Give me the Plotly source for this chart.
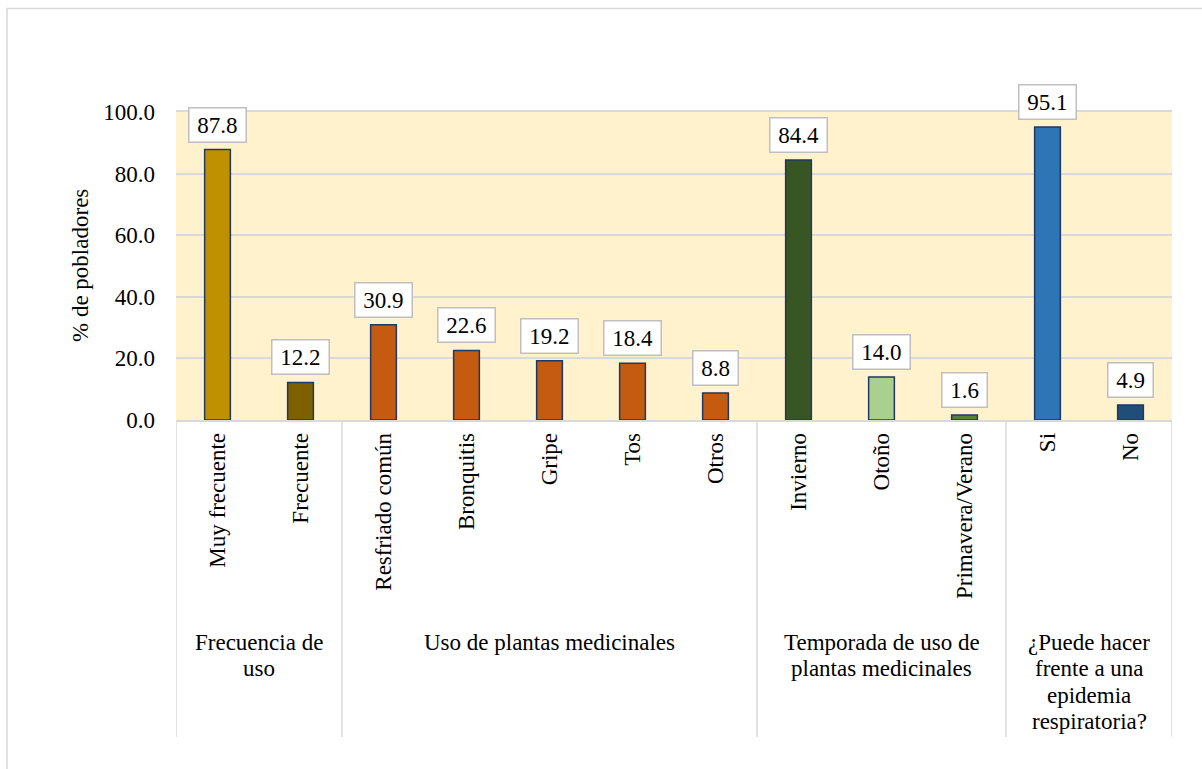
import plotly.graph_objects as go

# Categories, values and grouping
categories = [
    "Muy frecuente", "Frecuente",
    "Resfriado común", "Bronquitis", "Gripe", "Tos", "Otros",
    "Invierno", "Otoño", "Primavera/Verano",
    "Si", "No",
]
values = [87.8, 12.2, 30.9, 22.6, 19.2, 18.4, 8.8, 84.4, 14.0, 1.6, 95.1, 4.9]
bar_colors = [
    "#BF9000", "#7F6000",
    "#C55A11", "#C55A11", "#C55A11", "#C55A11", "#C55A11",
    "#375623", "#A9D08E", "#548235",
    "#2E75B6", "#1F4E79",
]
groups = [
    (["Frecuencia de", "uso"], 2),
    (["Uso de plantas medicinales"], 5),
    (["Temporada de uso de", "plantas medicinales"], 3),
    (["¿Puede hacer", "frente a una", "epidemia", "respiratoria?"], 2),
]
y_ticks = [0, 20, 40, 60, 80, 100]

FONT = "Liberation Serif"
GRID = "#D9D9D9"
W, H = 1202, 769
ML, MR, MT, MB = 176, 30, 112, 349
PW, PH = W - ML - MR, H - MT - MB

x_idx = list(range(len(categories)))

fig = go.Figure(
    go.Bar(
        x=x_idx,
        y=values,
        width=0.31,
        marker=dict(color=bar_colors, line=dict(color="#1F3864", width=1.5)),
        hoverinfo="skip",
    )
)

annotations = []
# value boxes above bars
for i, v in enumerate(values):
    annotations.append(dict(
        x=i, y=v, xref="x", yref="y",
        text="\u00a0" + f"{v:.1f}" + "\u00a0",
        showarrow=False, yanchor="bottom", yshift=7,
        height=29, valign="middle",
        font=dict(family=FONT, size=23, color="#000000"),
        bgcolor="#FFFFFF", bordercolor="#BFBFBF", borderwidth=1.5, borderpad=2,
    ))

# y-axis title
annotations.append(dict(
    x=0, y=0.5, xref="paper", yref="paper", xshift=-96, xanchor="center",
    text="% de pobladores", textangle=-90, showarrow=False,
    font=dict(family=FONT, size=23, color="#000000"),
))

shapes = []
# group separators and group labels below the category axis
line_bottom = (MT + PH - 737) / PH
start = -0.5
shapes.append(dict(type="line", xref="x", yref="paper", x0=start, x1=start,
                   y0=0, y1=line_bottom, line=dict(color=GRID, width=1.5)))
for lines, n in groups:
    end = start + n
    shapes.append(dict(type="line", xref="x", yref="paper", x0=end, x1=end,
                       y0=0, y1=line_bottom, line=dict(color=GRID, width=1.5)))
    center = (start + end) / 2
    for k, line in enumerate(lines):
        yc = 642 + 26.5 * k
        annotations.append(dict(
            x=center, y=(MT + PH - yc) / PH, xref="x", yref="paper",
            text=line, showarrow=False, yanchor="middle",
            font=dict(family=FONT, size=23, color="#000000"),
        ))
    start = end

# outer chart border (top and left edges visible)
shapes.append(dict(type="rect", xref="paper", yref="paper",
                   x0=(7 - ML) / PW, x1=(W + 20 - ML) / PW,
                   y0=(MT + PH - (H + 20)) / PH, y1=(MT + PH - 8.5) / PH,
                   line=dict(color=GRID, width=1.5), layer="below"))

fig.update_layout(
    width=W, height=H,
    margin=dict(l=ML, r=MR, t=MT, b=MB, autoexpand=False),
    paper_bgcolor="#FFFFFF",
    plot_bgcolor="#FFF2CC",
    showlegend=False,
    font=dict(family=FONT, size=23, color="#000000"),
    annotations=annotations,
    shapes=shapes,
    xaxis=dict(
        range=[-0.5, len(categories) - 0.5],
        tickmode="array", tickvals=x_idx, ticktext=categories,
        tickangle=-90, tickfont=dict(family=FONT, size=23, color="#000000"),
        showgrid=False, zeroline=False,
        showline=True, linecolor=GRID, linewidth=1.5, mirror=True,
        ticks="", ticklabelstandoff=2, automargin=False,
    ),
    yaxis=dict(
        range=[0, 100], tickvals=y_ticks, tickformat=".1f",
        tickfont=dict(family=FONT, size=23, color="#000000"),
        showgrid=True, gridcolor=GRID, gridwidth=1.5,
        zeroline=False, showline=False, ticks="",
        ticklabelstandoff=20, automargin=False,
    ),
)

fig.write_html("out.html")
